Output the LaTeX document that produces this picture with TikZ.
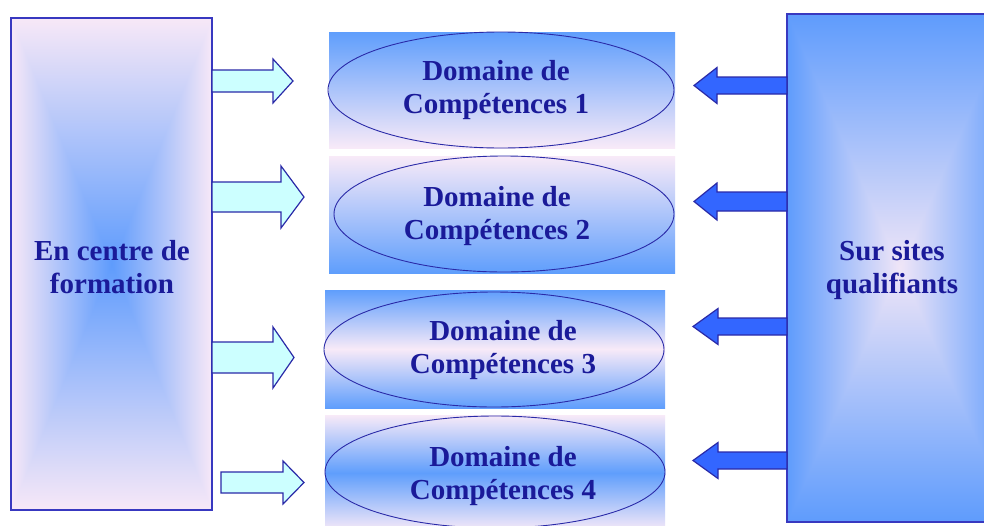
\documentclass[tikz,border=0pt]{standalone}
\usepackage{fontspec}
\setmainfont{Liberation Serif}
\usetikzlibrary{shapes.geometric}
\definecolor{textblue}{HTML}{1A1A99}
\definecolor{edgeblue}{HTML}{2A2AA8}
\definecolor{boxedge}{HTML}{3838C0}
\definecolor{cyanfill}{HTML}{CCFFFF}
\definecolor{arrowblue}{HTML}{3366FF}
\definecolor{cblue}{HTML}{5F9EFC}
\definecolor{cpink}{HTML}{F8EAF8}
\pgfdeclarefunctionalshading{leftpyr}{\pgfpoint{0bp}{0bp}}{\pgfpoint{100bp}{100bp}}{}{
 50 sub abs 25 div exch 50 sub abs 25 div 2 copy lt {exch} if pop
 dup 1 gt {pop 1} if
 dup 0.60 mul 0.37 add
 exch dup 0.30 mul 0.61 add
 exch -0.02 mul 0.99 add
}
\pgfdeclarefunctionalshading{rightpyr}{\pgfpoint{0bp}{0bp}}{\pgfpoint{100bp}{100bp}}{}{
 50 sub abs 25 div exch 50 sub abs 25 div 2 copy lt {exch} if pop
 dup 1 gt {pop 1} if
 dup -0.57 mul 0.94 add
 exch dup -0.29 mul 0.90 add
 exch 0.02 mul 0.97 add
}
\newcommand{\blockarrow}[7]{\draw[#1] (#2,#5-#6) -- (#3,#5-#6) -- (#3,#5-#7) -- (#4,#5) -- (#3,#5+#7) -- (#3,#5+#6) -- (#2,#5+#6) -- cycle;}
\tikzset{
  lbl/.style={text=textblue, font=\bfseries\fontsize{29}{33}\selectfont, align=center},
  dombox/.style={ellipse, draw=edgeblue, line width=0.9pt, inner sep=0pt},
  bigbox/.style={draw=boxedge, line width=1.3pt, inner sep=0pt, lbl},
  inarrow/.style={draw=edgeblue, fill=cyanfill, line width=1.2pt, line join=miter},
  outarrow/.style={draw=edgeblue, fill=arrowblue, line width=1.2pt, line join=miter},
}
\begin{document}
\begin{tikzpicture}[x=1pt, y=-1pt]
\useasboundingbox (0,0) rectangle (984,525);
\clip (0,0) rectangle (984,525);
\fill[white] (0,0) rectangle (984,525);
% middle gradient panels
\shade[top color=cblue, bottom color=cpink] (329,32) rectangle (675,148);
\shade[top color=cpink, bottom color=cblue] (329,156) rectangle (675,273);
\shade[top color=cblue, bottom color=cblue, middle color=cpink] (325,290) rectangle (665,408);
\shade[top color=cpink, bottom color=cpink, middle color=cblue] (325,415) rectangle (665,531);
% domains
\node[dombox, minimum width=346pt, minimum height=116pt] (d1) at (501,90) {};
\node[dombox, minimum width=340pt, minimum height=116pt] (d2) at (504,214) {};
\node[dombox, minimum width=340pt, minimum height=115pt] (d3) at (494,349.5) {};
\node[dombox, minimum width=340pt, minimum height=112pt] (d4) at (495,472) {};
\node[lbl] (t1) at (496,90.5) {Domaine de\\Compétences 1};
\node[lbl] (t2) at (497,216) {Domaine de\\Compétences 2};
\node[lbl] (t3) at (503,350) {Domaine de\\Compétences 3};
\node[lbl] (t4) at (503,476) {Domaine de\\Compétences 4};
% big boxes
\node[bigbox, shading=leftpyr, minimum width=201pt, minimum height=492pt] (cf) at (111.5,264) {};
\node[lbl] (cft) at (112,267) {En centre de\\formation};
\node[bigbox, shading=rightpyr, minimum width=226pt, minimum height=508pt] (ss) at (900,268) {};
\node[lbl] (sst) at (892,270) {Sur sites\\qualifiants};
% arrows toward the domains
\blockarrow{inarrow}{212}{273}{293}{81}{11}{22}
\blockarrow{inarrow}{212}{281}{304}{197}{15}{31}
\blockarrow{inarrow}{212}{273}{294}{357.5}{15.5}{30.5}
\blockarrow{inarrow}{221}{283}{304}{482.5}{10.5}{21.5}
% arrows from the right box
\blockarrow{outarrow}{787}{717}{694}{85.5}{8.5}{18}
\blockarrow{outarrow}{787}{717}{694}{201.5}{9.5}{18.5}
\blockarrow{outarrow}{787}{718}{693}{326.5}{8.5}{18}
\blockarrow{outarrow}{787}{718}{693}{460.5}{8.5}{18}
\end{tikzpicture}
\end{document}
